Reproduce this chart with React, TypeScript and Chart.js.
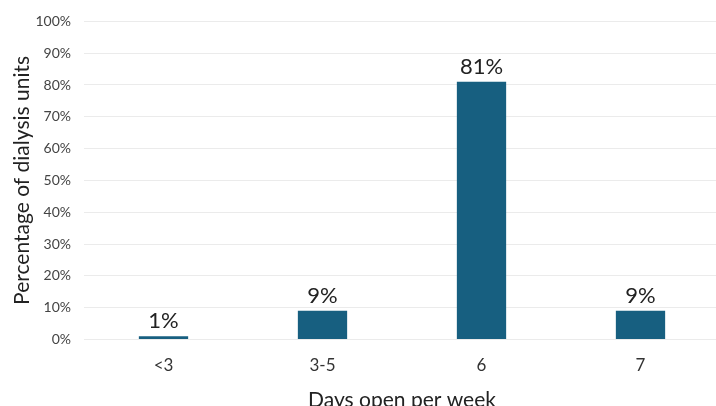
import React, { useEffect, useRef } from "react";
import { Chart, registerables } from "chart.js";

Chart.register(...registerables);

const categories = ["<3", "3-5", "6", "7"];
const values = [1, 9, 81, 9];
const yTicks = [0, 10, 20, 30, 40, 50, 60, 70, 80, 90, 100];

const FONT = "Lato, 'Open Sans', sans-serif";

const labelPlugin = {
  id: "barLabels",
  afterDatasetsDraw(chart: any) {
    const { ctx } = chart;
    const meta = chart.getDatasetMeta(0);
    ctx.save();
    ctx.font = `22px ${FONT}`;
    ctx.fillStyle = "#222";
    ctx.textAlign = "center";
    ctx.textBaseline = "alphabetic";
    meta.data.forEach((bar: any, i: number) => {
      ctx.fillText(`${values[i]}%`, bar.x, bar.y - 8);
    });
    ctx.restore();
  },
};

export default function App() {
  const ref = useRef<HTMLCanvasElement>(null);
  useEffect(() => {
    if (!ref.current) return;
    const chart = new Chart(ref.current, {
      type: "bar",
      data: {
        labels: categories,
        datasets: [
          {
            data: values,
            backgroundColor: "#175f80",
            barPercentage: 0.31,
            categoryPercentage: 1,
          },
        ],
      },
      options: {
        animation: false,
        responsive: false,
        maintainAspectRatio: false,
        layout: { padding: { top: 20, right: 0, left: 10, bottom: 0 } },
        plugins: { legend: { display: false }, tooltip: { enabled: false } },
        scales: {
          x: {
            grid: { display: false, drawTicks: false },
            border: { display: false },
            ticks: { color: "#333", font: { family: FONT, size: 17 }, padding: 16 },
            title: {
              display: true,
              text: "Days open per week",
              color: "#222",
              font: { family: FONT, size: 21 },
              padding: { top: -4, bottom: 4 },
            },
          },
          y: {
            min: 0,
            max: 100,
            afterBuildTicks(axis: any) {
              axis.ticks = yTicks.map((v) => ({ value: v }));
            },
            afterFit(axis: any) {
              axis.width = 74;
            },
            grid: { color: "#ebebeb", drawTicks: false },
            border: { display: false },
            ticks: {
              color: "#444",
              font: { family: FONT, size: 14 },
              padding: 13,
              callback: (v: any) => `${v}%`,
            },
            title: {
              display: true,
              text: "Percentage of dialysis units",
              color: "#222",
              font: { family: FONT, size: 21 },
              padding: { top: 0, bottom: 4 },
            },
          },
        },
      },
      plugins: [labelPlugin],
    });
    return () => chart.destroy();
  }, []);
  return (
    <div style={{ position: "fixed", left: 0, top: 0, width: 716, height: 406, overflow: "hidden", background: "#fff" }}>
      <canvas ref={ref} width={720} height={417} />
    </div>
  );
}
